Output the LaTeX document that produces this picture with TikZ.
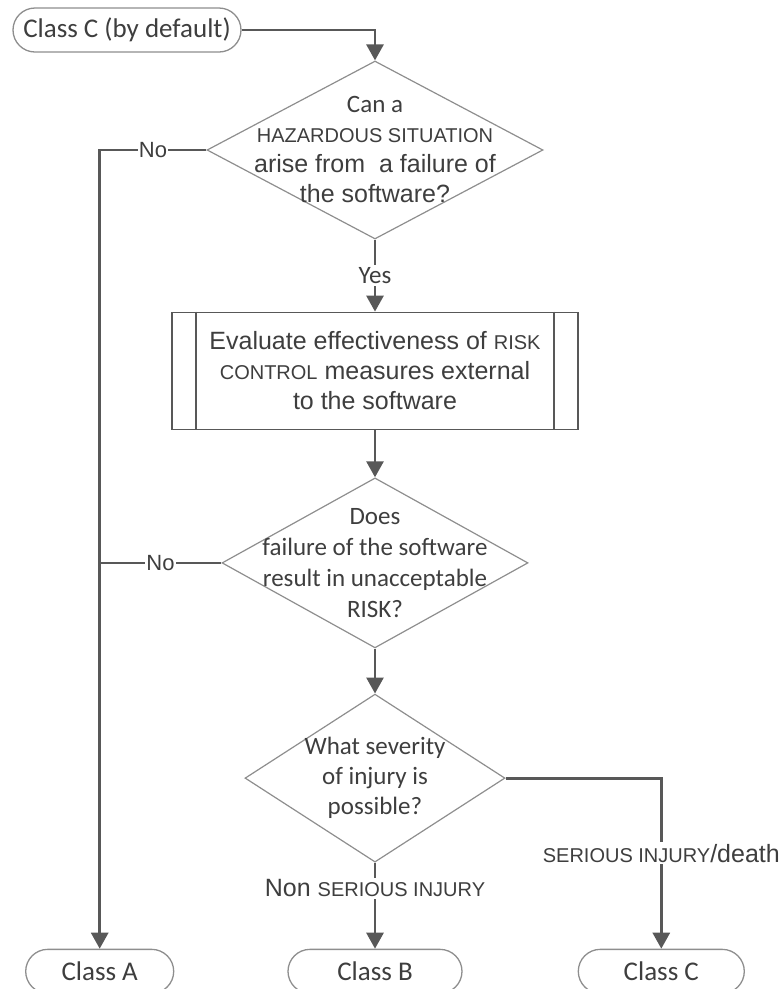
\documentclass[tikz,border=0pt]{standalone}
\usepackage{fontspec}
\setmainfont{Liberation Sans}
\newfontfamily\carl{Carlito}
\usepackage{tikz}
\usetikzlibrary{positioning}
\usetikzlibrary{arrows.meta,shapes.geometric}
\definecolor{linegray}{HTML}{585858}
\definecolor{edgegray}{HTML}{8E8E8E}
\definecolor{txtgray}{HTML}{3E3E3E}
\newcommand{\smc}[1]{{\fontsize{20}{30}\selectfont #1}}

\begin{document}
\begin{tikzpicture}[x=1pt,y=-1pt,
    term/.style={rectangle,rounded corners=22pt,draw=edgegray,line width=1.3pt,minimum height=44pt,text=txtgray,font=\carl\fontsize{27}{30}\selectfont},
    decision/.style={diamond,draw=edgegray,line width=1.2pt,inner sep=0pt},
    qtext/.style={align=center,text=txtgray,inner sep=0pt,font=\fontsize{25}{30}\selectfont},
    process/.style={rectangle,draw=linegray,line width=1.7pt,minimum width=406pt,minimum height=117pt,align=center,text=txtgray,font=\fontsize{25}{30}\selectfont},
    flow/.style={draw=linegray,line width=2.8pt,-{Triangle[width=17pt,length=16pt]}},
    joinline/.style={draw=linegray,line width=2.8pt},
    tag/.style={fill=white,text=txtgray,inner sep=2pt,font=\fontsize{25}{30}\selectfont}]

    \useasboundingbox (0,0) rectangle (784,989);

    \node[term,minimum width=228pt](1) at (127,30){Class C (by default)};
    \node[decision,minimum width=336pt,minimum height=178pt](2) at (375,150){};
    \node[qtext](2t) at (2){{\carl Can a}\\ \smc{HAZARDOUS SITUATION}\\ arise from\ \ a failure of\\ the software?};
    \node[process](3)[below=72pt of 2]{Evaluate effectiveness of \smc{RISK}\\ \smc{CONTROL} measures external\\ to the software};
    \node[decision,minimum width=306pt,minimum height=170pt](4)[below=47pt of 3]{};
    \node[qtext,font=\carl\fontsize{25}{31}\selectfont](4t) at (4){Does\\ failure of the software\\ result in unacceptable\\ RISK?};
    \node[decision,minimum width=260pt,minimum height=168pt](5)[below=45pt of 4]{};
    \node[qtext,font=\carl\fontsize{25}{30}\selectfont](5t) at (5){What severity\\ of injury is\\ possible?};
    \node[term,minimum width=174pt](7)[below=86pt of 5]{Class B};
    \node[term,minimum width=148pt](6)[left=113pt of 7]{Class A};
    \node[term,minimum width=166pt](8)[right=115pt of 7]{Class C};
    \coordinate (9) at (6 |- 4.west);

    \draw[linegray,line width=1.7pt] ([xshift=25pt]3.north west) -- ([xshift=25pt]3.south west);
    \draw[linegray,line width=1.7pt] ([xshift=-25pt]3.north east) -- ([xshift=-25pt]3.south east);

    \draw[flow] (1) -| (2);
    \draw[flow] (2) -- node[tag,font=\carl\fontsize{25}{30}\selectfont]{Yes} (3);
    \draw[flow] (2.west) -| node[tag,pos=0.25,font=\fontsize{22}{26}\selectfont,inner sep=1pt]{No} (6);
    \draw[flow] (3) -- (4);
    \draw[joinline] (4.west) -- node[tag,font=\fontsize{22}{26}\selectfont,inner sep=1pt]{No} (9);
    \draw[flow] (4) -- (5);
    \draw[flow] (5) -- node[tag,pos=0.3]{Non \smc{SERIOUS INJURY}} (7);
    \draw[flow] (5.east) -| node[tag,pos=0.72]{\smc{SERIOUS INJURY}/death} (8);

\end{tikzpicture}
\end{document}
